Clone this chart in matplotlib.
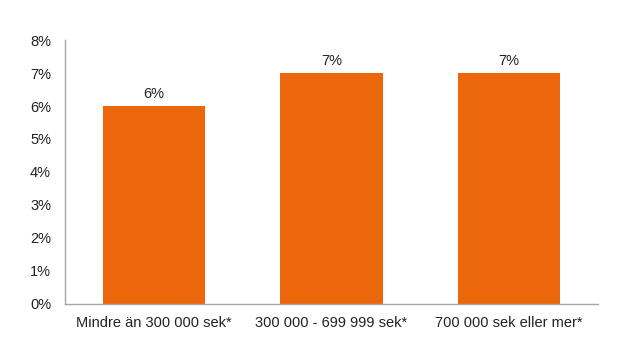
import matplotlib.pyplot as plt

# Données
categories = ['Mindre än 300 000 sek*', '300 000 - 699 999 sek*', '700 000 sek eller mer*']
valeurs = [0.06, 0.07, 0.07]
ticks_y = [0.0, 0.01, 0.02, 0.03, 0.04, 0.05, 0.06, 0.07, 0.08]

plt.rcParams['font.family'] = ['Liberation Sans', 'DejaVu Sans']

fig = plt.figure(figsize=(6.43, 3.51), dpi=100)
ax = fig.add_axes([0.101, 0.134, 0.829, 0.752])

x = range(len(categories))
barres = ax.bar(x, valeurs, width=0.575, color='#EC670B')

# Étiquettes au-dessus des barres
for b, v in zip(barres, valeurs):
    ax.text(b.get_x() + b.get_width() / 2, v + 0.0015, f'{v * 100:.0f}%',
            ha='center', va='bottom', fontsize=10.5, color='#222222')

ax.set_xlim(-0.5, len(categories) - 0.5)
ax.set_ylim(0, 0.08)
ax.set_yticks(ticks_y)
ax.set_yticklabels([f'{t * 100:.0f}%' for t in ticks_y])
ax.set_xticks(list(x))
ax.set_xticklabels(categories)
ax.tick_params(axis='both', length=0, labelsize=10.5, colors='#222222')
ax.tick_params(axis='y', pad=10)
ax.tick_params(axis='x', pad=9)

for side in ['top', 'right']:
    ax.spines[side].set_visible(False)
for side in ['left', 'bottom']:
    ax.spines[side].set_color('#A6A6A6')
    ax.spines[side].set_linewidth(1)

fig.savefig('out.png', dpi=100)
